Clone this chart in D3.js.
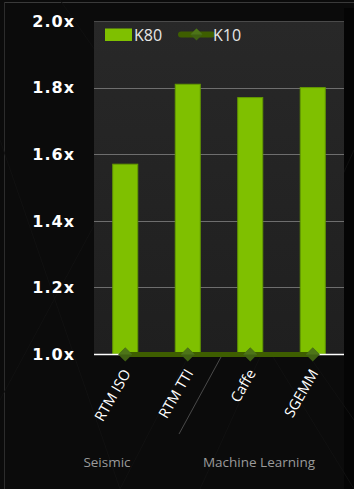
<!DOCTYPE html>
<html><head><meta charset="utf-8">
<script src="https://cdn.jsdelivr.net/npm/d3@7"></script>
<style>
html,body{margin:0;padding:0;background:#0b0b0b;}
svg{display:block;}
</style></head>
<body>
<svg id="chart" width="354" height="489"></svg>
<script>
const categories = ["RTM ISO", "RTM TTI", "Caffe", "SGEMM"];
const k80 = [1.57, 1.81, 1.77, 1.80];
const k10 = [1.0, 1.0, 1.0, 1.0];
const yTicks = [1.0, 1.2, 1.4, 1.6, 1.8, 2.0];
const groups = [
  {name: "Seismic", from: 0, to: 0},
  {name: "Machine Learning", from: 1, to: 3}
];
const seriesNames = ["K80", "K10"];

const svg = d3.select("#chart");
const W = 354, H = 489;
const plot = {left: 94, right: 344, top: 21, bottom: 354};

// background
svg.append("rect").attr("width", W).attr("height", H).attr("fill", "#0b0b0b");
svg.append("rect").attr("x", 344).attr("y", 8).attr("width", 10).attr("height", H).attr("fill", "#050505");
svg.append("line").attr("x1", 4).attr("x2", W).attr("y1", 2.5).attr("y2", 2.5).attr("stroke", "#3a3a3a").attr("stroke-width", 1);
svg.append("line").attr("x1", 4.5).attr("x2", 4.5).attr("y1", 2).attr("y2", H).attr("stroke", "#2c2c2c").attr("stroke-width", 1);

// faint decorative diamond lines
const deco = svg.append("g").attr("stroke", "#111111").attr("stroke-width", 1);
[[0,140,120,489],[120,489,300,140],[0,400,140,140],[140,140,354,489],[60,0,354,420],[354,150,200,489]].forEach(d=>{
  deco.append("line").attr("x1", d[0]).attr("y1", d[1]).attr("x2", d[2]).attr("y2", d[3]);
});

// plot area
const defs = svg.append("defs");
const grad = defs.append("linearGradient").attr("id", "pbg").attr("x1", 0).attr("y1", 0).attr("x2", 0).attr("y2", 1);
grad.append("stop").attr("offset", "0%").attr("stop-color", "#282828");
grad.append("stop").attr("offset", "100%").attr("stop-color", "#1f1f1f");
svg.append("rect").attr("x", plot.left).attr("y", plot.top).attr("width", plot.right - plot.left).attr("height", plot.bottom - plot.top).attr("fill", "url(#pbg)");
svg.append("line").attr("x1", plot.left).attr("x2", plot.right).attr("y1", plot.top + 0.5).attr("y2", plot.top + 0.5).attr("stroke", "#4a4a4a");

const x = d3.scaleBand().domain(categories).range([plot.left, plot.right]).paddingInner(0.6).paddingOuter(0.3);
const y = d3.scaleLinear().domain([1.0, 2.0]).range([plot.bottom, plot.top]);

// gridlines
svg.append("g").selectAll("line").data(yTicks.filter(t => t > 1.0 && t < 2.0)).join("line")
  .attr("x1", plot.left).attr("x2", plot.right)
  .attr("y1", d => Math.round(y(d)) + 0.5).attr("y2", d => Math.round(y(d)) + 0.5)
  .attr("stroke", "#6e6e6e").attr("stroke-width", 1);

// y labels
svg.append("g").selectAll("text").data(yTicks).join("text")
  .attr("x", 75).attr("y", d => y(d)).attr("dy", "0.36em")
  .attr("text-anchor", "end")
  .attr("font-family", "DejaVu Sans, sans-serif").attr("font-weight", "bold")
  .attr("font-size", 16).attr("letter-spacing", "1px")
  .attr("fill", "#ffffff")
  .text(d => d.toFixed(1) + "x");

// bars
svg.append("g").selectAll("rect").data(categories).join("rect")
  .attr("x", d => x(d)).attr("width", x.bandwidth())
  .attr("y", (d, i) => y(k80[i])).attr("height", (d, i) => y(1.0) - y(k80[i]))
  .attr("fill", "#7fc000").attr("stroke", "#639a00").attr("stroke-width", 1);

// baseline
svg.append("line").attr("x1", plot.left).attr("x2", plot.right)
  .attr("y1", plot.bottom + 0.5).attr("y2", plot.bottom + 0.5).attr("stroke", "#ffffff").attr("stroke-width", 1.5);

// K10 line
const cx = d => x(d) + x.bandwidth() / 2;
const line = d3.line().x((d, i) => cx(categories[i])).y(d => y(d) + 0.5);
svg.append("path").datum(k10).attr("d", line).attr("fill", "none").attr("stroke", "#3e5e00").attr("stroke-width", 5);

function diamond(g, px, py, r) {
  g.append("path").attr("d", `M${px},${py - r}L${px + r},${py}L${px},${py + r}L${px - r},${py}Z`).attr("fill", "#3f6012");
  g.append("path").attr("d", `M${px},${py - r}L${px + r},${py}L${px - r},${py}Z`).attr("fill", "#4d7418");
}
const mk = svg.append("g");
k10.forEach((v, i) => diamond(mk, cx(categories[i]), y(v) + 0.5, 7));

// x labels
svg.append("g").selectAll("text").data(categories).join("text")
  .attr("transform", d => `translate(${cx(d) + 6},${373}) rotate(-60)`)
  .attr("text-anchor", "end")
  .attr("font-family", "Open Sans, sans-serif").attr("font-size", 14.5)
  .attr("fill", "#ffffff")
  .text(d => d);

// group separator
svg.append("line").attr("x1", 221).attr("y1", 357).attr("x2", 179).attr("y2", 434)
  .attr("stroke", "#4a4a4a").attr("stroke-width", 1);

// group labels
const gx = [107, 259];
svg.append("g").selectAll("text").data(groups).join("text")
  .attr("x", (d, i) => gx[i]).attr("y", 467)
  .attr("text-anchor", "middle")
  .attr("font-family", "Open Sans, sans-serif").attr("font-size", 13.5)
  .attr("fill", "#9a9a9a")
  .text(d => d.name);

// legend
const lg = svg.append("g");
lg.append("rect").attr("x", 105).attr("y", 28.5).attr("width", 27).attr("height", 12.5).attr("fill", "#7fc000");
lg.append("text").attr("x", 134).attr("y", 40.5).attr("font-family", "Open Sans, sans-serif").attr("font-size", 16)
  .attr("fill", "#e6e6e6").text(seriesNames[0]);
lg.append("line").attr("x1", 181).attr("x2", 212).attr("y1", 34.5).attr("y2", 34.5).attr("stroke", "#3e5e00").attr("stroke-width", 6).attr("stroke-linecap", "round");
diamond(lg, 196.5, 34.5, 6);
lg.append("text").attr("x", 213).attr("y", 40.5).attr("font-family", "Open Sans, sans-serif").attr("font-size", 16)
  .attr("fill", "#e6e6e6").text(seriesNames[1]);
</script>
</body></html>
